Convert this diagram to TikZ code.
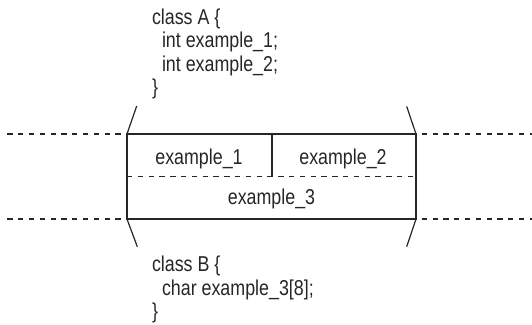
\documentclass[tikz,border=0pt]{standalone}
\usepackage{fontspec}
\setmainfont[FakeStretch=0.83]{Liberation Sans}
\definecolor{ink}{HTML}{262626}
\begin{document}
\begin{tikzpicture}[x=1pt,y=-1pt,
  every node/.style={inner sep=0pt, outer sep=0pt, text=ink, font=\fontsize{21.5}{23.5}\selectfont},
  solidline/.style={draw=ink, line width=1.2pt},
  dashline/.style={draw=ink, line width=1.2pt, dash pattern=on 5.3pt off 5.5pt},
  codeline/.style={anchor=base west},
  cell/.style={anchor=base}]
\useasboundingbox (0,0) rectangle (532,324);
% box corners
\coordinate (tl) at (127,134);
\coordinate (tr) at (416,134);
\coordinate (bl) at (127,219);
\coordinate (br) at (416,219);
\coordinate (ml) at (127,176.5);
\coordinate (mr) at (416,176.5);
\coordinate (dtop) at (272,134);
\coordinate (dbot) at (272,176.5);
% outer dashed ends
\coordinate (lt) at (7.3,134);
\coordinate (lb) at (7.3,219);
\coordinate (rt) at (421.7,134);
\coordinate (rb) at (421.7,219);
\coordinate (rte) at (532,134);
\coordinate (rbe) at (532,219);
% slant ends
\coordinate (stl) at (136.7,106);
\coordinate (str) at (406.7,106.5);
\coordinate (sbl) at (137.3,246.7);
\coordinate (sbr) at (406.7,246.7);
% code text
\node[codeline] (a1) at (152,24) {class A \{};
\node[codeline] (a2) at (162,47.5) {int example\_1;};
\node[codeline] (a3) at (162,71) {int example\_2;};
\node[codeline] (a4) at (152,94.5) {\}};
\node[codeline] (b1) at (152,271.5) {class B \{};
\node[codeline] (b2) at (162,295) {char example\_3[8];};
\node[codeline] (b3) at (152,318.5) {\}};
% cells
\node[cell] (e1) at (199,164) {example\_1};
\node[cell] (e2) at (343,164) {example\_2};
\node[cell] (e3) at (271.5,204.5) {example\_3};
% box
\draw[solidline] (tl) -- (tr) -- (br) -- (bl) -- cycle;
\draw[solidline] (dtop) -- (dbot);
\draw[dashline] (ml) -- (mr);
% outer dashed lines
\draw[dashline] (lt) -- (tl);
\draw[dashline] (lb) -- (bl);
\draw[dashline] (rt) -- (rte);
\draw[dashline] (rb) -- (rbe);
% slants
\draw[solidline] (tl) -- (stl);
\draw[solidline] (tr) -- (str);
\draw[solidline] (bl) -- (sbl);
\draw[solidline] (br) -- (sbr);
\end{tikzpicture}
\end{document}
